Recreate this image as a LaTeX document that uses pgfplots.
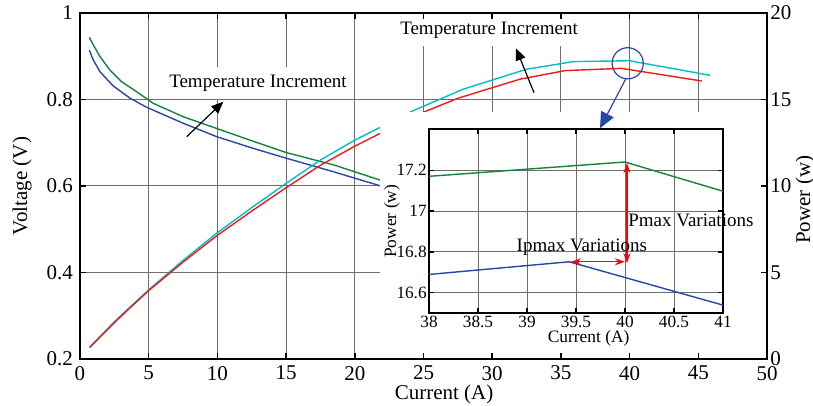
\documentclass[border=0pt]{standalone}
\usepackage{fontspec}
\setmainfont{Liberation Serif}
\usepackage{pgfplots}
\pgfplotsset{compat=1.18}
\usetikzlibrary{arrows.meta}

\definecolor{vgreen}{RGB}{20,130,60}
\definecolor{vblue}{RGB}{40,70,170}
\definecolor{pcyan}{RGB}{0,190,200}
\definecolor{pred}{RGB}{240,25,25}
\definecolor{gridc}{RGB}{110,110,110}

\begin{document}
\begin{tikzpicture}
\pgfplotsset{
  base/.style={at={(0,0)},anchor=south west,scale only axis,
    width=343.5pt,height=173pt,xmin=0,xmax=50},
  /pgf/number format/assume math mode=true,
}
% grid and voltage curves
\begin{axis}[base, ymin=0.2, ymax=1,
  xtick={0,5,...,50}, ytick={0.2,0.4,0.6,0.8,1},
  grid=major, grid style={gridc,line width=0.5pt},
  axis line style={draw=none}, major tick length=0pt,
  xticklabels={}, yticklabels={}]
\addplot[vgreen, line width=0.7pt] coordinates
  {(0.68,0.944) (0.97,0.926) (1.46,0.899) (2.18,0.868) (3.03,0.841)
   (4.12,0.818) (5.34,0.791) (7.52,0.760) (9.95,0.733) (12.37,0.706)
   (15.04,0.677) (18.44,0.649) (22,0.612)};
\addplot[vblue, line width=0.7pt] coordinates
  {(0.68,0.914) (0.97,0.891) (1.46,0.864) (2.43,0.831) (3.64,0.803)
   (4.85,0.782) (7.52,0.745) (9.95,0.714) (12.61,0.687) (15.04,0.664)
   (18.44,0.633) (22,0.599)};
\end{axis}
% power curves
\begin{axis}[base, ymin=0, ymax=20, hide axis]
\addplot[pcyan, line width=0.7pt] coordinates
  {(0.7,0.68) (1.5,1.34) (2.5,2.15) (3.5,2.9) (5,4.0) (7.5,5.7) (10,7.3)
   (12.5,8.75) (15,10.15) (17.5,11.5) (20,12.65) (22,13.45) (24.1,14.3)
   (27.9,15.6) (32.5,16.75) (35.9,17.19) (40,17.24) (45.85,16.4)};
\addplot[pred, line width=0.7pt] coordinates
  {(0.7,0.66) (1.5,1.3) (2.5,2.1) (3.5,2.85) (5,3.95) (7.5,5.6) (10,7.15)
   (12.5,8.55) (15,9.9) (17.5,11.2) (20,12.3) (22,13.1) (25.1,14.3)
   (27.5,15.07) (32,16.17) (35.3,16.67) (39.4,16.8) (45.25,16.07)};
\end{axis}
% white covers
\fill[white] (150pt,0.6pt) rectangle (343pt,123.65pt);
\node[fill=white, inner xsep=7pt, inner ysep=4pt, font=\fontsize{9.5}{11}\selectfont]
  at (204.5pt,164.5pt) {Temperature Increment};
\node[fill=white, inner xsep=0pt, inner ysep=4pt, font=\fontsize{9.5}{11}\selectfont]
  at (89pt,138pt) {Temperature Increment};
\draw[line width=0.6pt, -{Triangle[length=6pt,width=5pt]}] (53.35pt,111.15pt) -- (71.65pt,128.65pt);
\draw[line width=0.6pt, -{Triangle[length=6pt,width=5pt]}] (227pt,133.15pt) -- (218pt,155.35pt);
% frame, left and bottom axes
\begin{axis}[base, ymin=0.2, ymax=1,
  xtick={0,5,...,50}, ytick={0.2,0.4,0.6,0.8,1},
  xtick pos=both, ytick pos=left, tick align=inside,
  axis line style={line width=1pt},
  major tick style={black,line width=0.8pt}, major tick length=3pt,
  tick label style={font=\fontsize{10.5}{12}\selectfont},
  label style={font=\fontsize{10.5}{12}\selectfont},
  xlabel={Current (A)}, ylabel={Voltage (V)},
  xlabel style={at={(axis description cs:0.53,-0.102)}, anchor=center},
  ylabel style={at={(axis description cs:-0.0844,0.5)}, anchor=center}]
\end{axis}
% right axis
\begin{axis}[base, ymin=0, ymax=20, hide x axis, axis y line*=right,
  ytick={0,5,...,20}, tick align=inside,
  axis line style={line width=1pt},
  major tick style={black,line width=0.8pt}, major tick length=3pt,
  yticklabel style={font=\fontsize{10.5}{12}\selectfont, inner xsep=1.5pt},
  ylabel={Power (w)}, ylabel style={font=\fontsize{10.5}{12}\selectfont,
    at={(axis description cs:1.0553,0.46)}, anchor=center, rotate=0}]
\end{axis}
% inset
\begin{axis}[at={(174.5pt,22.85pt)}, anchor=south west, scale only axis,
  width=147pt, height=92pt, clip=false,
  xmin=38, xmax=41, ymin=16.5, ymax=17.4,
  xtick={38,38.5,...,41}, ytick={16.6,16.8,17,17.2},
  grid=major, grid style={gridc,line width=0.5pt},
  tick align=inside, xtick pos=both, ytick pos=both,
  axis line style={line width=0.8pt},
  major tick style={black,line width=0.6pt}, major tick length=2.5pt,
  tick label style={font=\fontsize{8.6}{10}\selectfont},
  xticklabel style={inner ysep=1pt}, yticklabel style={inner xsep=1pt},
  label style={font=\fontsize{8.7}{10}\selectfont},
  xlabel={Current (A)}, ylabel={Power (w)},
  xlabel style={at={(axis description cs:0.543,-0.135)}, anchor=center},
  ylabel style={at={(axis description cs:-0.126,0.5)}, anchor=center}]
\addplot[vgreen, line width=0.7pt] coordinates {(38,17.17) (40,17.24) (41,17.097)};
\addplot[vblue, line width=0.7pt] coordinates {(38,16.69) (39.43,16.752) (41,16.54)};
\draw[red, line width=0.6pt, {Stealth[length=5pt,width=3.5pt]}-{Stealth[length=5pt,width=3.5pt]}]
  (axis cs:40.02,16.745) -- (axis cs:40.02,17.235);
\draw[red, line width=0.6pt, {Stealth[length=5pt,width=3.5pt]}-{Stealth[length=5pt,width=3.5pt]}]
  (axis cs:39.45,16.752) -- (axis cs:40.0,16.752);
\node[anchor=west, inner sep=0pt, font=\fontsize{9.5}{11}\selectfont] at (axis cs:40.03,16.955) {Pmax Variations};
\node[inner sep=0pt, font=\fontsize{9.5}{11}\selectfont] at (axis cs:39.56,16.825) {Ipmax Variations};
\end{axis}
% zoom marker
\draw[vblue, line width=0.6pt] (273.85pt,147.85pt) circle (7.8pt);
\draw[vblue, line width=0.6pt, -{Triangle[length=8pt,width=7pt]}] (272.85pt,140pt) -- (260pt,115.35pt);

\pgfresetboundingbox
\path[use as bounding box] (-40pt,-23.5pt) rectangle (366.5pt,179.5pt);
\end{tikzpicture}
\end{document}
